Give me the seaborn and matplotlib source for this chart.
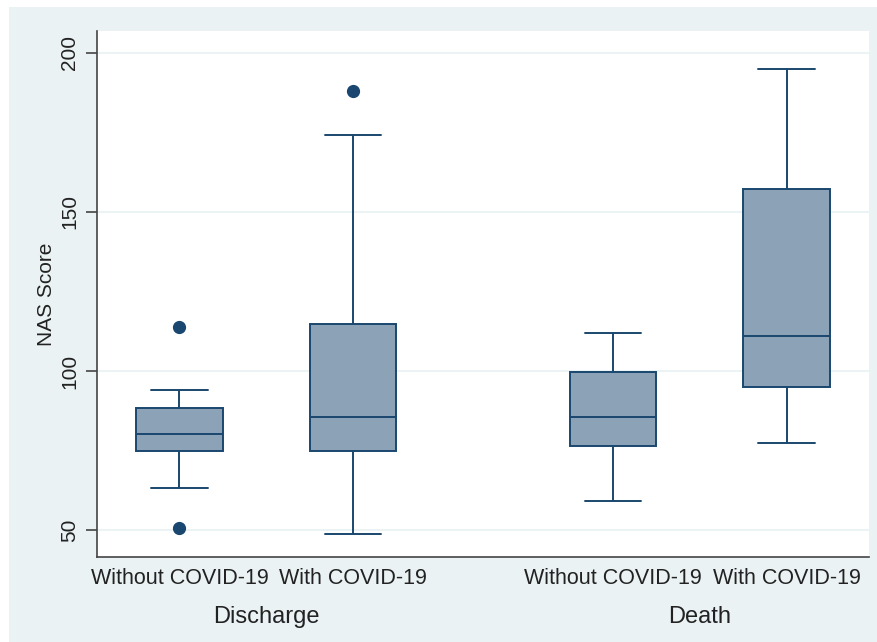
import pandas as pd
import matplotlib.pyplot as plt
import matplotlib.transforms as mtransforms
from matplotlib.patches import Rectangle
import seaborn as sns

# five-number summaries: whisker low, Q1, median, Q3, whisker high
outcomes = ["Discharge", "Death"]
covid = ["Without COVID-19", "With COVID-19"]
summary = {
    ("Discharge", "Without COVID-19"): [63.1, 74.7, 80.3, 88.3, 94.1],
    ("Discharge", "With COVID-19"): [48.6, 74.7, 85.6, 114.9, 174.2],
    ("Death", "Without COVID-19"): [59.1, 76.4, 85.6, 99.7, 111.9],
    ("Death", "With COVID-19"): [77.4, 94.8, 111.1, 157.3, 195.1],
}
outliers = {
    ("Discharge", "Without COVID-19"): [50.5, 113.7],
    ("Discharge", "With COVID-19"): [188.1],
    ("Death", "Without COVID-19"): [],
    ("Death", "With COVID-19"): [],
}
yticks = [50, 100, 150, 200]

# build sample points that give exactly these quartiles (n = 5 or 9 points)
rows = []
for key, (lo, q1, med, q3, hi) in summary.items():
    out = outliers[key]
    if len(out) == 0:
        vals = [lo, q1, med, q3, hi]
    elif len(out) == 1:
        vals = [lo, q1, q1, med, med, q3, q3, hi] + out
    else:
        vals = [lo, q1, q1, med, q3, q3, hi] + out
    for v in vals:
        rows.append({"outcome": key[0], "covid": key[1], "nas": v})
df = pd.DataFrame(rows)

navy = "#1a476f"
fill = "#8ca3b7"
bg = "#eaf2f3"

sns.set_style("white")
plt.rcParams["font.family"] = ["Liberation Sans", "DejaVu Sans"]

fig = plt.figure(figsize=(8.77, 6.42), dpi=100, facecolor="white")
fig.patches.append(Rectangle((9 / 877, 0), 1, 1 - 7 / 642, transform=fig.transFigure,
                             facecolor=bg, edgecolor="none", zorder=-5))
ax = fig.add_axes([97 / 877, 1 - 557 / 642, (869 - 97) / 877, (557 - 31) / 642])
ax.set_facecolor("white")

width = 0.8
sns.boxplot(data=df, x="outcome", y="nas", hue="covid", order=outcomes, hue_order=covid,
            palette=[fill, fill], width=width, gap=0.5, linecolor=navy, linewidth=1.4,
            fliersize=8.5, flierprops=dict(marker="o", markerfacecolor=navy,
                                           markeredgecolor=navy),
            capwidths=0.13, legend=False, saturation=1, ax=ax)

ax.set_ylim(41.5, 206.9)
ax.set_xlim(-0.39, 1.39)
ax.set_yticks(yticks)
ax.set_yticklabels([str(t) for t in yticks], fontsize=15, color="#222222")
plt.setp(ax.get_yticklabels(), rotation=90, va="center")
ax.tick_params(axis="y", length=8, width=1.2, color="#444444", pad=5, direction="out", left=True)
ax.yaxis.grid(True, color=bg, linewidth=1.3)
ax.set_axisbelow(True)

off = width / 4
pos = [g + s * off for g in range(len(outcomes)) for s in (-1, 1)]
ax.set_xticks(pos)
ax.set_xticklabels(covid * len(outcomes), fontsize=15.5, color="#222222")
ax.tick_params(axis="x", length=0, pad=8)
ax.set_xlabel("")
ax.set_ylabel("NAS Score", fontsize=15, color="#222222")
ax.yaxis.set_label_coords(-0.053, 0.5)

trans = mtransforms.blended_transform_factory(ax.transData, ax.transAxes)
for g, name in enumerate(outcomes):
    ax.text(g, -0.114, name, transform=trans, ha="center", va="center",
            fontsize=17, color="#222222")

for side in ["top", "right"]:
    ax.spines[side].set_visible(False)
for side in ["left", "bottom"]:
    ax.spines[side].set_color("#444444")
    ax.spines[side].set_linewidth(1.2)

fig.savefig("out.png", dpi=100)
